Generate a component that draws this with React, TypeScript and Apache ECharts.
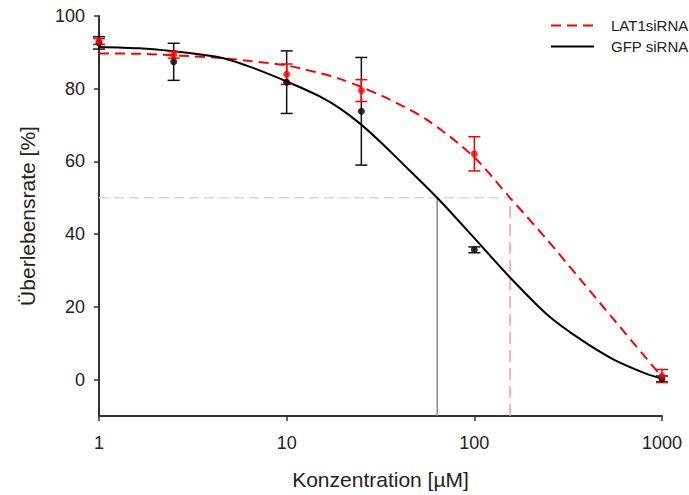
import React, { useEffect, useRef } from "react";
import * as echarts from "echarts";

// Measured data (mean ± error)
const concentrations = [1, 2.5, 10, 25, 100, 1000];
const gfpMean = [92.6, 87.4, 81.8, 73.8, 35.7, 0.2];
const gfpErr = [1.7, 5.1, 8.6, 14.8, 0.8, 0.8];
const latMean = [93.0, 89.3, 84.0, 79.5, 62.1, 1.0];
const latErr = [0.8, 0.9, 2.8, 3.0, 4.7, 1.8];

// Fitted curves
const gfpCurveX = [1, 1.65, 2.5, 3.4, 4.6, 6.4, 10, 15, 19.2, 24.6, 31.4, 40.2, 63.4, 100, 155, 243, 365, 550, 828, 1000];
const gfpCurveY = [91.5, 91.1, 90.3, 89.5, 88.4, 86.0, 82.0, 77.9, 74.6, 70.4, 65.5, 60.1, 50.0, 38.9, 28.1, 18.0, 11.2, 5.6, 1.6, 0.3];
const latCurveX = [1, 1.65, 2.7, 4.6, 6.4, 10, 15, 19.2, 24.6, 35.5, 55.7, 98.7, 155, 243, 365, 550, 828, 1000];
const latCurveY = [89.7, 89.6, 89.1, 88.4, 87.6, 86.4, 84.3, 82.7, 80.6, 77.0, 71.5, 61.4, 50.0, 38.6, 27.7, 16.7, 5.75, 0.7];

// IC50 reference lines
const halfLevel = 50;
const ic50Gfp = 63.4;
const ic50Lat = 155;

const yTicks = [0, 20, 40, 60, 80, 100];
const seriesNames = ["LAT1siRNA", "GFP siRNA"];

const FONT = "'Liberation Sans', Arial, sans-serif";

function errorBarSeries(mean: number[], err: number[], color: string) {
  return {
    type: "custom",
    silent: true,
    z: 4,
    data: concentrations.map((c, i) => [c, mean[i] - err[i], mean[i] + err[i]]),
    encode: { x: 0, y: [1, 2] },
    renderItem: (_params: any, api: any) => {
      const x = api.value(0);
      const pHi = api.coord([x, api.value(2)]);
      const pLo = api.coord([x, api.value(1)]);
      const w = 6;
      const style = { stroke: color, lineWidth: 1.5 };
      return {
        type: "group",
        children: [
          { type: "line", shape: { x1: pHi[0], y1: pHi[1], x2: pLo[0], y2: pLo[1] }, style },
          { type: "line", shape: { x1: pHi[0] - w, y1: pHi[1], x2: pHi[0] + w, y2: pHi[1] }, style },
          { type: "line", shape: { x1: pLo[0] - w, y1: pLo[1], x2: pLo[0] + w, y2: pLo[1] }, style },
        ],
      };
    },
  };
}

export default function App() {
  const ref = useRef<HTMLDivElement>(null);
  useEffect(() => {
    if (!ref.current) return;
    const chart = echarts.init(ref.current, undefined, { renderer: "svg" });
    const axisColor = "#333";
    chart.setOption({
      animation: false,
      backgroundColor: "#fff",
      grid: { left: 99, right: 27, top: 16, bottom: 77 },
      legend: {
        orient: "vertical",
        left: 545,
        top: 13,
        itemWidth: 43,
        itemHeight: 14,
        itemGap: 6,
        data: seriesNames,
        itemStyle: { opacity: 0 },
        formatter: "{t|{name}}",
        textStyle: {
          fontSize: 15,
          fontFamily: FONT,
          color: "#222",
          rich: { t: { fontSize: 15, fontFamily: FONT, color: "#222", padding: [0, 0, 0, 12] } },
        },
      },
      xAxis: {
        type: "log",
        logBase: 10,
        min: 1,
        max: 1000,
        name: "Konzentration [µM]",
        nameLocation: "middle",
        nameGap: 53,
        nameTextStyle: { fontSize: 21, fontFamily: FONT, color: "#222" },
        axisLine: { onZero: false, lineStyle: { color: axisColor, width: 2 } },
        axisTick: { length: 5, lineStyle: { color: axisColor, width: 1.5 } },
        minorTick: { show: false },
        splitLine: { show: false },
        axisLabel: {
          fontSize: 18,
          fontFamily: FONT,
          color: "#222",
          margin: 18,
          formatter: (v: number) => String(Math.round(v)),
        },
      },
      yAxis: {
        type: "value",
        min: -10,
        max: 100,
        name: "Überlebensrate [%]",
        nameLocation: "middle",
        nameGap: 61,
        nameTextStyle: { fontSize: 21, fontFamily: FONT, color: "#222" },
        axisLine: { show: true, onZero: false, lineStyle: { color: axisColor, width: 2 } },
        axisTick: { show: true, length: 5, customValues: yTicks, lineStyle: { color: axisColor, width: 1.5 } },
        splitLine: { show: false },
        axisLabel: { fontSize: 18, fontFamily: FONT, color: "#222", margin: 14, customValues: yTicks },
      },
      series: [
        {
          type: "line",
          silent: true,
          z: 1,
          symbol: "none",
          data: [[1, halfLevel], [ic50Lat, halfLevel]],
          lineStyle: { color: "#d6d6de", width: 1.5, type: [10, 5] },
        },
        {
          type: "line",
          silent: true,
          z: 1,
          symbol: "none",
          data: [[ic50Gfp, -10], [ic50Gfp, halfLevel]],
          lineStyle: { color: "#8a8a8a", width: 1.5 },
        },
        {
          type: "line",
          silent: true,
          z: 1,
          symbol: "none",
          data: [[ic50Lat, -10], [ic50Lat, halfLevel]],
          lineStyle: { color: "#ff9a9a", width: 1.5, type: [12, 6] },
        },
        {
          name: "LAT1siRNA",
          type: "line",
          smooth: 0.3,
          symbol: "none",
          z: 3,
          data: latCurveX.map((x, i) => [x, latCurveY[i]]),
          lineStyle: { color: "#ff0000", width: 2, type: [10, 6] },
          itemStyle: { color: "#ff0000" },
        },
        {
          name: "GFP siRNA",
          type: "line",
          smooth: 0.3,
          symbol: "none",
          z: 3,
          data: gfpCurveX.map((x, i) => [x, gfpCurveY[i]]),
          lineStyle: { color: "#000", width: 2 },
          itemStyle: { color: "#000" },
        },
        errorBarSeries(gfpMean, gfpErr, "#111"),
        errorBarSeries(latMean, latErr, "#ff0000"),
        {
          type: "scatter",
          silent: true,
          z: 5,
          symbolSize: 7,
          data: concentrations.map((c, i) => [c, gfpMean[i]]),
          itemStyle: { color: "#000" },
        },
        {
          type: "scatter",
          silent: true,
          z: 6,
          symbolSize: 7,
          data: concentrations.map((c, i) => [c, latMean[i]]),
          itemStyle: { color: "#ff0000" },
        },
      ],
    });
    return () => chart.dispose();
  }, []);
  return <div ref={ref} style={{ width: 689, height: 495, position: "absolute", left: 0, top: 0 }} />;
}
